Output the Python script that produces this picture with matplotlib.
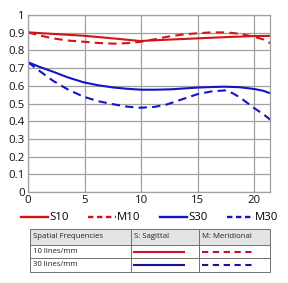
import matplotlib
matplotlib.use("Agg")
import matplotlib.pyplot as plt
from matplotlib.lines import Line2D
from matplotlib.patches import Rectangle

plt.rcParams['font.family'] = ['Open Sans', 'DejaVu Sans']

x_s10 = [0, 2.5, 4.9, 7.5, 9.9, 12.5, 15, 17.5, 20, 21.5]
s10 = [0.902, 0.892, 0.883, 0.868, 0.853, 0.861, 0.868, 0.875, 0.881, 0.882]

x_m10 = [0, 1, 2.2, 3.5, 4.9, 6.2, 7.6, 8.8, 10, 11.2, 12.3, 13.6, 15, 16, 17.1, 18, 18.8, 20, 20.8, 21.5]
m10 = [0.902, 0.885, 0.868, 0.856, 0.849, 0.842, 0.838, 0.841, 0.849, 0.863, 0.877, 0.889, 0.897, 0.901, 0.902, 0.899, 0.893, 0.877, 0.862, 0.838]

x_s30 = [0, 1.1, 2.2, 3.5, 4.9, 6.2, 7.6, 8.8, 10, 11.3, 12.6, 13.8, 15, 16.2, 17.4, 18.7, 20, 20.8, 21.5]
s30 = [0.733, 0.705, 0.68, 0.648, 0.62, 0.603, 0.59, 0.583, 0.578, 0.578, 0.58, 0.585, 0.59, 0.593, 0.595, 0.592, 0.582, 0.572, 0.556]

x_m30 = [0, 1.1, 2.2, 3.5, 4.9, 6.2, 7.6, 8.8, 10, 11.2, 12.3, 13.6, 15, 16.2, 17.4, 18.1, 18.8, 19.4, 20, 20.8, 21.5]
m30 = [0.733, 0.68, 0.629, 0.58, 0.539, 0.513, 0.495, 0.482, 0.476, 0.481, 0.495, 0.523, 0.553, 0.568, 0.574, 0.558, 0.532, 0.503, 0.474, 0.44, 0.405]

xticks = [0, 5, 10, 15, 20]
yticks = [0, 0.1, 0.2, 0.3, 0.4, 0.5, 0.6, 0.7, 0.8, 0.9, 1]
ytick_labels = ['0', '0.1', '0.2', '0.3', '0.4', '0.5', '0.6', '0.7', '0.8', '0.9', '1']

red = '#d41414'
blue = '#1414c8'
tred = '#c8102e'
tblue = '#141496'
grid_c = '#a0a0a0'

fig = plt.figure(figsize=(2.88, 2.83), dpi=100)
ax = fig.add_axes([28/288, 1-192/283, 242/288, 177/283])
ax.set_xlim(0, 21.4)
ax.set_ylim(0, 1)
ax.set_xticks(xticks)
ax.set_yticks(yticks)
ax.set_yticklabels(ytick_labels)
ax.grid(True, color=grid_c, lw=0.9)
ax.set_axisbelow(True)
for s in ax.spines.values():
    s.set_color(grid_c)
    s.set_linewidth(0.9)
ax.tick_params(length=0, labelsize=8.2, pad=2.5, labelcolor='#111111')

lw = 1.5
ax.plot(x_s10, s10, color=red, lw=lw, solid_capstyle='butt')
ax.plot(x_m10, m10, color=red, lw=lw, ls=(0, (4, 2.5)))
ax.plot(x_s30, s30, color=blue, lw=lw)
ax.plot(x_m30, m30, color=blue, lw=lw, ls=(0, (4, 2.5)))

handles = [Line2D([], [], color=red, lw=1.7),
           Line2D([], [], color=red, lw=1.7, ls=(0, (2.3, 1.5))),
           Line2D([], [], color=blue, lw=1.7),
           Line2D([], [], color=blue, lw=1.7, ls=(0, (2.3, 1.5)))]
fig.legend(handles, ['S10', 'M10', 'S30', 'M30'], loc='center',
           bbox_to_anchor=(0.52, 1-218/283), ncol=4, frameon=False,
           fontsize=8.2, handlelength=2.4, handletextpad=0.1,
           columnspacing=1.7, borderpad=0)

# table
tax = fig.add_axes([0, 0, 1, 1])
tax.set_xlim(0, 288)
tax.set_ylim(283, 0)
tax.axis('off')
L, R, T, B = 30, 270, 229, 272
c1, c2 = 131, 199
r1, r2 = 245, 258
tax.add_patch(Rectangle((L, T), R-L, r1-T, facecolor='#e4e4e4', edgecolor='none'))
bc = '#707070'
tax.add_patch(Rectangle((L, T), R-L, B-T, facecolor='none', edgecolor=bc, lw=0.7))
for yy in (r1, r2):
    tax.plot([L, R], [yy, yy], color=bc, lw=0.7)
for xx in (c1, c2):
    tax.plot([xx, xx], [T, B], color=bc, lw=0.7)
fs = 5.6
tax.text(L+3, (T+r1)/2, 'Spatial Frequencies', fontsize=fs, va='center', color='#222222')
tax.text(c1+3, (T+r1)/2, 'S: Sagittal', fontsize=fs, va='center', color='#222222')
tax.text(c2+3, (T+r1)/2, 'M: Meridional', fontsize=fs, va='center', color='#222222')
tax.text(L+3, (r1+r2)/2, '10 lines/mm', fontsize=fs, va='center', color='#222222')
tax.text(L+3, (r2+B)/2, '30 lines/mm', fontsize=fs, va='center', color='#222222')
tax.plot([134, 184], [(r1+r2)/2+0.5]*2, color=tred, lw=1.5)
tax.plot([202, 253], [(r1+r2)/2+0.5]*2, color=tred, lw=1.5, ls=(0, (3, 2.2)))
tax.plot([134, 184], [(r2+B)/2]*2, color=tblue, lw=1.5)
tax.plot([202, 253], [(r2+B)/2]*2, color=tblue, lw=1.5, ls=(0, (3, 2.2)))

fig.savefig('out.png', dpi=100)
